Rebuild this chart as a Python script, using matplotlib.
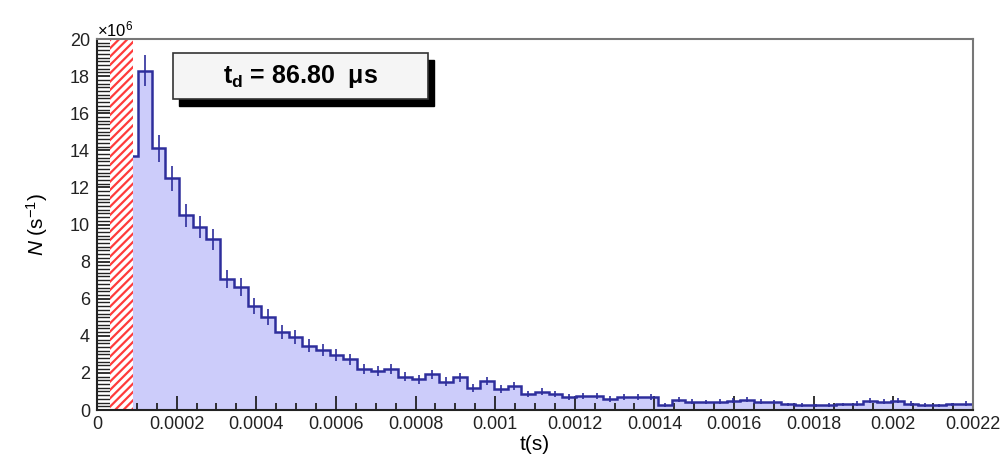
import matplotlib.pyplot as plt
import numpy as np
from matplotlib.patches import Rectangle
from matplotlib.ticker import MultipleLocator, FixedLocator

plt.rcParams['font.family'] = ['Liberation Sans', 'DejaVu Sans']
plt.rcParams['mathtext.fontset'] = 'custom'
plt.rcParams['mathtext.rm'] = 'Liberation Sans'
plt.rcParams['mathtext.it'] = 'Liberation Sans:italic'
plt.rcParams['mathtext.bf'] = 'Liberation Sans:bold'
plt.rcParams['hatch.linewidth'] = 1.6

# histogram: 64 bins between 0 and 0.0022 s, counts in units of 1e6 s^-1
t_min, t_max, n_bins = 0.0, 0.0022, 64
counts = [0, 0, 13.7, 18.3, 14.1, 12.5, 10.5, 9.85, 9.2, 7.06,
          6.65, 5.6, 5.0, 4.19, 3.95, 3.47, 3.23, 2.96, 2.73, 2.21,
          2.12, 2.22, 1.80, 1.65, 1.92, 1.53, 1.76, 1.17, 1.56, 1.12,
          1.29, 0.85, 0.99, 0.85, 0.68, 0.77, 0.75, 0.59, 0.68, 0.72,
          0.68, 0.27, 0.55, 0.45, 0.42, 0.45, 0.50, 0.55, 0.45, 0.42,
          0.30, 0.28, 0.25, 0.28, 0.30, 0.35, 0.50, 0.45, 0.50, 0.35,
          0.28, 0.25, 0.30, 0.35]
err_scale = 0.19          # poisson-like error bar size
dead_zone = (3.3e-5, 9.0e-5)   # hatched region
label_text = r'$\mathbf{t_{d}}$ = 86.80  μs'
xtick_vals = [0, 0.0002, 0.0004, 0.0006, 0.0008, 0.001, 0.0012,
              0.0014, 0.0016, 0.0018, 0.002, 0.0022]
xtick_labels = ['0', '0.0002', '0.0004', '0.0006', '0.0008', '0.001',
                '0.0012', '0.0014', '0.0016', '0.0018', '0.002', '0.0022']

counts = np.array(counts)
edges = np.linspace(t_min, t_max, n_bins + 1)
centers = 0.5 * (edges[:-1] + edges[1:])
errs = err_scale * np.sqrt(counts)

fig = plt.figure(figsize=(10.03, 4.58), dpi=100)
ax = fig.add_axes([0.0967, 0.1048, 0.8733, 0.81])

line_col = '#2e2e9c'
ax.stairs(counts, edges, fill=True, color='#ccccfa', zorder=1)
ax.stairs(counts, edges, color=line_col, lw=1.8, zorder=2)
nz = counts > 0
ax.errorbar(centers[nz], counts[nz], yerr=errs[nz], fmt='none',
            ecolor=line_col, elinewidth=1.2, capsize=0, zorder=2)

ax.axvspan(dead_zone[0], dead_zone[1], facecolor='white', edgecolor='#ff3b3b',
           hatch='////', lw=0, zorder=3)

ax.set_xlim(t_min, t_max)
ax.set_ylim(0, 20)

ax.xaxis.set_major_locator(FixedLocator(xtick_vals))
ax.set_xticklabels(xtick_labels)
ax.xaxis.set_minor_locator(MultipleLocator(0.00005))
ax.yaxis.set_major_locator(MultipleLocator(2))
ax.yaxis.set_minor_locator(MultipleLocator(0.2))
ax.tick_params(axis='both', which='both', direction='in', labelsize=13,
               colors='#222222', top=False, right=False)
ax.tick_params(axis='x', which='major', length=10, width=1.3, pad=4)
ax.tick_params(axis='x', which='minor', length=5, width=1.3)
ax.tick_params(axis='y', which='major', length=11, width=1.3, pad=5)
ax.tick_params(axis='y', which='minor', length=11, width=1.0)
for lab in ax.get_xticklabels() + ax.get_yticklabels():
    lab.set_zorder(5)

for s in ['left', 'bottom']:
    ax.spines[s].set_color('#222222')
    ax.spines[s].set_linewidth(1.5)
for s in ['top', 'right']:
    ax.spines[s].set_color('#777777')
    ax.spines[s].set_linewidth(1.5)
for s in ax.spines.values():
    s.set_zorder(4)

ax.set_xlabel('t(s)', fontsize=15, labelpad=2)
ax.set_ylabel(r'$N$ (s$^{-1}$)', fontsize=15, labelpad=14)
ax.text(0.0, 1.0, r'$\times$10$^{6}$', transform=ax.transAxes,
        fontsize=12, ha='left', va='bottom')

# label box with shadow
bx, by, bw, bh = 0.0868, 0.838, 0.2911, 0.124
ax.add_patch(Rectangle((bx + 0.0068, by - 0.0189), bw, bh, transform=ax.transAxes,
                       facecolor='black', edgecolor='black', zorder=6, clip_on=False))
ax.add_patch(Rectangle((bx, by), bw, bh, transform=ax.transAxes,
                       facecolor='#f5f5f5', edgecolor='#333333', lw=1.2,
                       zorder=7, clip_on=False))
ax.text(bx + bw / 2, by + bh / 2, label_text, transform=ax.transAxes,
        fontsize=18, fontweight='bold', ha='center', va='center', zorder=8)

plt.savefig('out.png', dpi=100)
